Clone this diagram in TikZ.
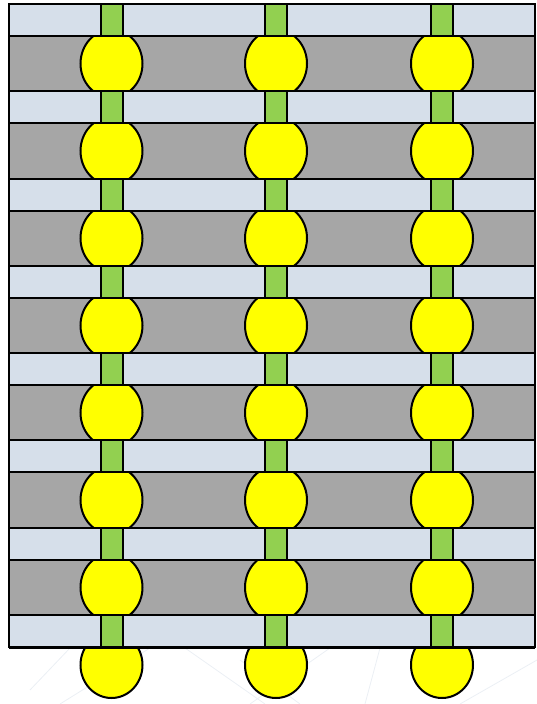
\documentclass[tikz,border=0pt]{standalone}
\usetikzlibrary{calc}
\definecolor{lightband}{HTML}{D6DFEA}
\definecolor{grayband}{HTML}{A6A6A6}
\definecolor{beadyellow}{HTML}{FFFF00}
\definecolor{rodgreen}{HTML}{92D050}
\definecolor{faintline}{HTML}{EBEFF4}
\tikzset{
  lightstrip/.style={fill=lightband, draw=black, line width=2pt},
  graystrip/.style={fill=grayband, draw=black, line width=2pt},
  rod/.style={fill=rodgreen, draw=black, line width=2pt},
  bead/.style={fill=beadyellow, draw=black, line width=2pt},
  outline/.style={draw=black, line width=2pt},
  watermark/.style={draw=faintline, line width=0.8pt}
}
\begin{document}
\begin{tikzpicture}[x=1pt,y=-1pt]
\useasboundingbox (0,0) rectangle (537,704);
% faint background lines
\draw[watermark] (150,648) -- (60,704);
\draw[watermark] (185,648) -- (265,704);
\draw[watermark] (250,704) -- (330,648);
\draw[watermark] (300,704) -- (240,660);
\draw[watermark] (380,648) -- (365,704);
\draw[watermark] (460,704) -- (537,660);
\draw[watermark] (30,690) -- (70,648);
\def\period{87.29}
\def\lh{32}
% light bands with green rods
\foreach \i in {0,...,7}{
  \pgfmathsetmacro{\yt}{4+\i*\period}
  \pgfmathsetmacro{\yb}{\yt+\lh}
  \path[lightstrip] (9,\yt) rectangle (535,\yb);
  \foreach \cx in {111.5,276,442}{
    \path[rod] (\cx-11,\yt) rectangle (\cx+11,\yb);
  }
}
% gray bands with beads
\foreach \i in {0,...,6}{
  \pgfmathsetmacro{\yt}{4+\i*\period+\lh}
  \pgfmathsetmacro{\yb}{4+(\i+1)*\period}
  \pgfmathsetmacro{\ym}{(\yt+\yb)/2}
  \path[graystrip] (9,\yt) rectangle (535,\yb);
  \begin{scope}
    \clip (9,\yt) rectangle (535,\yb);
    \foreach \cx in {111.5,276,442}{
      \path[bead] (\cx,\ym) ellipse [x radius=31, y radius=34];
    }
  \end{scope}
  \path[outline] (9,\yt) rectangle (535,\yb);
}
% bottom beads
\begin{scope}
  \clip (0,648) rectangle (537,704);
  \foreach \cx in {111.5,276,442}{
    \path[bead] (\cx,665) ellipse [x radius=31, y radius=33];
  }
\end{scope}
\draw[outline] (9,648) -- (535,648);
\end{tikzpicture}
\end{document}
